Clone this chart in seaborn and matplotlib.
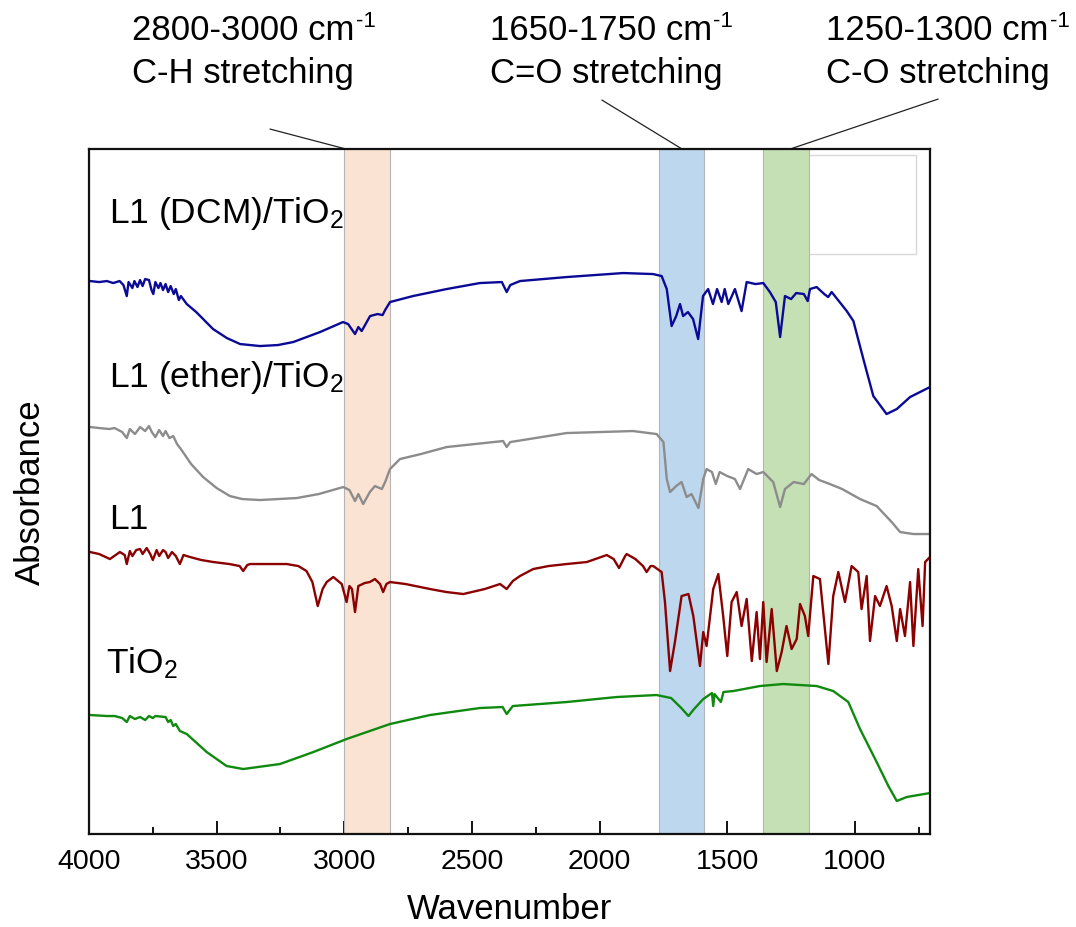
import matplotlib
matplotlib.use("Agg")
import matplotlib.pyplot as plt
import seaborn as sns
import pandas as pd
from matplotlib.patches import Rectangle
from matplotlib.ticker import MultipleLocator

# FTIR spectra: (wavenumber, absorbance a.u.)
dcm_tio2 = [(3996, 5.53), (3960, 5.52), (3930, 5.53), (3905, 5.51), (3880, 5.53), (3865, 5.49),
            (3852, 5.38), (3845, 5.52), (3830, 5.46), (3822, 5.53), (3810, 5.47), (3800, 5.54),
            (3790, 5.48), (3780, 5.55), (3765, 5.54), (3755, 5.44), (3748, 5.40), (3740, 5.52),
            (3728, 5.46), (3720, 5.51), (3710, 5.44), (3700, 5.50), (3690, 5.42), (3680, 5.48),
            (3668, 5.40), (3660, 5.45), (3648, 5.34), (3640, 5.38), (3617, 5.30), (3580, 5.22),
            (3514, 5.05), (3460, 4.96), (3408, 4.90), (3330, 4.88), (3260, 4.89), (3200, 4.92),
            (3095, 5.02), (3005, 5.12), (2985, 5.10), (2958, 5.00), (2945, 5.07), (2932, 5.03),
            (2899, 5.18), (2870, 5.20), (2850, 5.19), (2840, 5.24), (2821, 5.32), (2731, 5.38),
            (2599, 5.45), (2469, 5.51), (2383, 5.52), (2364, 5.42), (2350, 5.49), (2312, 5.53),
            (2129, 5.57), (1908, 5.61), (1791, 5.60), (1757, 5.58), (1737, 5.45), (1718, 5.08),
            (1700, 5.18), (1685, 5.30), (1673, 5.18), (1654, 5.22), (1634, 5.15), (1614, 4.95),
            (1595, 5.38), (1575, 5.45), (1556, 5.30), (1540, 5.45), (1522, 5.32), (1510, 5.45),
            (1496, 5.30), (1470, 5.45), (1444, 5.23), (1424, 5.52), (1390, 5.50), (1359, 5.51),
            (1333, 5.42), (1310, 5.32), (1293, 4.97), (1274, 5.38), (1250, 5.35), (1230, 5.41),
            (1200, 5.40), (1185, 5.33), (1176, 5.45), (1150, 5.47), (1120, 5.40), (1105, 5.37),
            (1091, 5.42), (1032, 5.23), (1006, 5.13), (967, 4.75), (928, 4.38), (876, 4.20),
            (836, 4.25), (784, 4.37), (706, 4.47)]

ether_tio2 = [(3996, 4.07), (3960, 4.06), (3920, 4.05), (3900, 4.06), (3870, 4.02), (3852, 3.96),
              (3840, 4.05), (3820, 4.00), (3800, 4.07), (3780, 4.03), (3765, 4.08), (3754, 4.02),
              (3740, 3.97), (3725, 4.04), (3710, 3.98), (3700, 4.03), (3685, 3.96), (3670, 3.98),
              (3655, 3.90), (3640, 3.85), (3600, 3.70), (3553, 3.57), (3500, 3.46), (3448, 3.38),
              (3400, 3.35), (3330, 3.34), (3186, 3.36), (3100, 3.40), (3004, 3.47), (2980, 3.44),
              (2958, 3.33), (2945, 3.40), (2926, 3.30), (2900, 3.42), (2880, 3.48), (2853, 3.45),
              (2840, 3.52), (2821, 3.65), (2782, 3.75), (2700, 3.80), (2599, 3.87), (2378, 3.93),
              (2364, 3.87), (2350, 3.92), (2325, 3.93), (2129, 4.01), (1869, 4.03), (1777, 4.00),
              (1750, 3.92), (1737, 3.55), (1724, 3.42), (1700, 3.48), (1679, 3.52), (1659, 3.37),
              (1640, 3.40), (1613, 3.26), (1594, 3.55), (1581, 3.65), (1560, 3.62), (1545, 3.50),
              (1530, 3.62), (1500, 3.58), (1470, 3.55), (1450, 3.45), (1418, 3.65), (1385, 3.60),
              (1359, 3.62), (1320, 3.52), (1293, 3.27), (1274, 3.45), (1240, 3.52), (1200, 3.50),
              (1170, 3.60), (1140, 3.54), (1098, 3.50), (1050, 3.45), (980, 3.35), (915, 3.28),
              (856, 3.12), (823, 3.02), (771, 3.00), (706, 3.00)]

l1 = [(3996, 2.82), (3960, 2.80), (3918, 2.75), (3879, 2.82), (3860, 2.79), (3852, 2.70),
      (3840, 2.83), (3830, 2.78), (3815, 2.84), (3800, 2.85), (3790, 2.80), (3774, 2.86),
      (3760, 2.80), (3750, 2.74), (3735, 2.84), (3725, 2.78), (3710, 2.84), (3700, 2.82),
      (3690, 2.76), (3675, 2.82), (3660, 2.78), (3644, 2.70), (3630, 2.79), (3604, 2.77),
      (3560, 2.74), (3513, 2.72), (3450, 2.70), (3410, 2.68), (3396, 2.63), (3380, 2.69),
      (3369, 2.70), (3300, 2.70), (3226, 2.70), (3180, 2.68), (3148, 2.63), (3125, 2.52),
      (3104, 2.28), (3085, 2.45), (3069, 2.52), (3043, 2.57), (3010, 2.50), (2991, 2.32),
      (2980, 2.48), (2970, 2.45), (2958, 2.22), (2945, 2.48), (2920, 2.51), (2900, 2.52),
      (2880, 2.55), (2860, 2.50), (2848, 2.42), (2835, 2.50), (2821, 2.52), (2760, 2.50),
      (2664, 2.45), (2600, 2.42), (2534, 2.40), (2450, 2.45), (2390, 2.50), (2364, 2.45),
      (2340, 2.53), (2312, 2.58), (2260, 2.65), (2200, 2.68), (2129, 2.70), (2050, 2.72),
      (1972, 2.79), (1945, 2.75), (1924, 2.66), (1900, 2.78), (1894, 2.80), (1860, 2.75),
      (1830, 2.68), (1816, 2.62), (1800, 2.68), (1790, 2.68), (1757, 2.62), (1744, 2.32),
      (1724, 1.63), (1705, 1.92), (1679, 2.38), (1652, 2.40), (1633, 2.18), (1607, 1.68),
      (1594, 2.02), (1581, 1.88), (1555, 2.45), (1535, 2.60), (1516, 2.18), (1500, 1.78),
      (1483, 2.32), (1463, 2.42), (1444, 2.08), (1424, 2.35), (1404, 1.73), (1385, 2.22),
      (1372, 1.75), (1359, 2.32), (1346, 1.72), (1326, 2.25), (1306, 1.63), (1287, 1.82),
      (1268, 2.08), (1248, 1.85), (1228, 1.95), (1215, 2.30), (1196, 2.18), (1183, 1.98),
      (1163, 2.58), (1137, 2.55), (1104, 1.70), (1085, 2.38), (1065, 2.62), (1039, 2.32),
      (1013, 2.68), (987, 2.62), (974, 2.25), (954, 2.58), (941, 1.93), (921, 2.38),
      (902, 2.28), (876, 2.48), (856, 2.28), (836, 1.93), (823, 2.25), (804, 1.98),
      (784, 2.52), (771, 1.88), (752, 2.65), (735, 2.08), (725, 2.72), (706, 2.77)]

tio2 = [(3996, 1.19), (3930, 1.18), (3900, 1.18), (3870, 1.16), (3852, 1.12), (3840, 1.18),
        (3820, 1.15), (3800, 1.17), (3780, 1.14), (3765, 1.18), (3750, 1.16), (3740, 1.18),
        (3700, 1.17), (3690, 1.12), (3680, 1.14), (3670, 1.08), (3660, 1.10), (3644, 1.03),
        (3617, 1.00), (3539, 0.82), (3461, 0.68), (3396, 0.65), (3252, 0.70), (3121, 0.82),
        (2991, 0.95), (2821, 1.10), (2664, 1.19), (2469, 1.26), (2380, 1.27), (2364, 1.20),
        (2340, 1.28), (2129, 1.32), (1933, 1.37), (1777, 1.39), (1720, 1.36), (1680, 1.26),
        (1652, 1.18), (1630, 1.25), (1594, 1.35), (1560, 1.41), (1555, 1.28), (1550, 1.40),
        (1525, 1.32), (1515, 1.42), (1476, 1.43), (1372, 1.48), (1281, 1.50), (1150, 1.48),
        (1085, 1.43), (1026, 1.32), (980, 1.05), (915, 0.72), (869, 0.48), (836, 0.33),
        (797, 0.37), (706, 0.41)]

series = {"L1 (DCM)/TiO$_2$": dcm_tio2, "L1 (ether)/TiO$_2$": ether_tio2,
          "L1": l1, "TiO$_2$": tio2}
colors = ["#0a0a96", "#8c8c8c", "#8b0000", "#0f8a0f"]
label_y = [6.12, 4.48, 3.06, 1.62]

# highlighted bands: (high, low wavenumber), fill colour
bands = [(3000, 2820), (1767, 1591), (1360, 1180)]
band_colors = ["#fbe3d4", "#bdd7ee", "#c5e0b4"]
band_notes = [("2800-3000 cm", "C-H stretching"),
              ("1650-1750 cm", "C=O stretching"),
              ("1250-1300 cm", "C-O stretching")]

sns.set_style("ticks")
plt.rcParams['font.family'] = ['Liberation Sans', 'DejaVu Sans']
plt.rcParams['mathtext.fontset'] = 'custom'
plt.rcParams['mathtext.rm'] = 'Liberation Sans'
plt.rcParams['mathtext.it'] = 'Liberation Sans:italic'
plt.rcParams['mathtext.bf'] = 'Liberation Sans:bold'
plt.rcParams['text.color'] = 'black'
plt.rcParams['axes.labelcolor'] = 'black'
plt.rcParams['xtick.color'] = 'black'

fig = plt.figure(figsize=(10.76, 9.28), dpi=100)
ax = fig.add_axes([0.0827, 0.1002, 0.7816, 0.7381])

# leftover empty legend frame in the top right corner
ax.add_patch(Rectangle((0.85, 0.847), 0.133, 0.144, transform=ax.transAxes,
                       facecolor="white", edgecolor="#d9d9d9", lw=1, zorder=0.5))

for (hi, lo), c in zip(bands, band_colors):
    ax.axvspan(lo, hi, facecolor=c, edgecolor="#b5b5b5", lw=0.8, zorder=1)

for (name, pts), c, ly in zip(series.items(), colors, label_y):
    df = pd.DataFrame(pts, columns=["wn", "ab"])
    sns.lineplot(data=df, x="wn", y="ab", color=c, lw=1.7, sort=False,
                 estimator=None, ax=ax, zorder=3)
    ax.text(3920 if name != "TiO$_2$" else 3935, ly, name, fontsize=25.5,
            va="baseline", ha="left", zorder=4)

ax.set_xlim(4000, 706)
ax.set_ylim(0, 6.85)
ax.xaxis.set_major_locator(MultipleLocator(500))
ax.xaxis.set_minor_locator(MultipleLocator(250))
ax.set_yticks([])
ax.tick_params(axis="x", which="major", direction="in", length=9.5, width=1.3,
               labelsize=20.5, pad=10, top=False)
ax.tick_params(axis="x", which="minor", direction="in", length=5, width=1.3, top=False)
for s in ax.spines.values():
    s.set_linewidth(1.6)
    s.set_color("#111111")
    s.set_zorder(5)

ax.set_xlabel("Wavenumber", fontsize=25)
ax.set_ylabel("Absorbance", fontsize=25)
ax.xaxis.set_label_coords(0.5, -0.085)
ax.yaxis.set_label_coords(-0.05, 0.5)

# notes above the plot, with leader lines to the bands
note_x = [0.1227, 0.455, 0.768]
leader_start = [(3291, 7.05), (1991, 7.34), (674, 7.35)]
leader_end = [2993, 1677, 1254]
for (l1_txt, l2_txt), nx, (sx, sy), ex in zip(band_notes, note_x, leader_start, leader_end):
    t = fig.text(nx, 0.957, l1_txt, fontsize=25, va="baseline", ha="left")
    ax.annotate("-1", xy=(1.0, 1.0), xycoords=t, xytext=(1, 2), textcoords="offset points",
                fontsize=16, ha="left", va="top", annotation_clip=False)
    fig.text(nx, 0.911, l2_txt, fontsize=25, va="baseline", ha="left")
    ax.plot([sx, ex], [sy, 6.85], color="#222222", lw=0.9, clip_on=False, zorder=5)

fig.savefig("out.png", dpi=100)
